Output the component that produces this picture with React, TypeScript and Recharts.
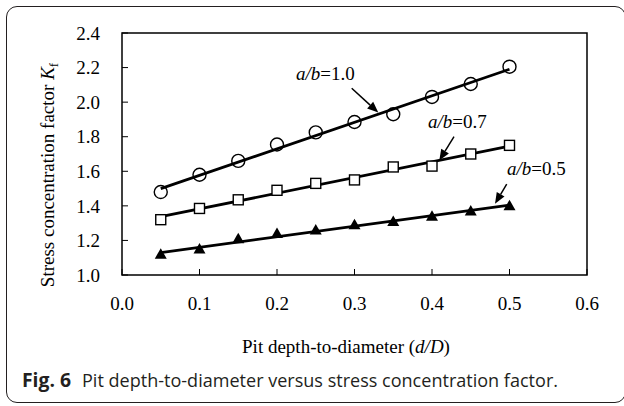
import {
  ComposedChart,
  Scatter,
  Line,
  XAxis,
  YAxis,
  ReferenceArea,
  ReferenceLine,
  ReferenceDot,
} from "recharts";

// Pit depth-to-diameter ratio (d/D)
const pitRatio = [0.05, 0.1, 0.15, 0.2, 0.25, 0.3, 0.35, 0.4, 0.45, 0.5];

// Stress concentration factor Kf, one list per a/b
const kfAb10 = [1.48, 1.58, 1.66, 1.755, 1.825, 1.885, 1.93, 2.03, 2.105, 2.205];
const kfAb07 = [1.32, 1.385, 1.435, 1.49, 1.53, 1.55, 1.625, 1.63, 1.7, 1.75];
const kfAb05 = [1.12, 1.15, 1.21, 1.24, 1.26, 1.29, 1.31, 1.34, 1.37, 1.4];

// linear fit lines, read at both ends
const fitRatio = [0.05, 0.5];
const fitAb10 = [1.5, 2.19];
const fitAb07 = [1.337, 1.745];
const fitAb05 = [1.13, 1.404];

const xTicks = [0, 0.1, 0.2, 0.3, 0.4, 0.5, 0.6];
const yTicks = [1.0, 1.2, 1.4, 1.6, 1.8, 2.0, 2.2, 2.4];

// a/b labels and the arrows pointing at each line (data units)
const annoRatio = ["1.0", "0.7", "0.5"];
const annoTextAt = [
  [0.2245, 2.128],
  [0.3948, 1.85],
  [0.4968, 1.578],
];
const annoArrowFrom = [
  [0.2964, 2.08],
  [0.4284, 1.8],
  [0.4964, 1.526],
];
const annoArrowTo = [
  [0.3307, 1.94],
  [0.4094, 1.662],
  [0.4813, 1.412],
];

const serif = "'Liberation Serif', 'Times New Roman', serif";
const sans = "'Open Sans', 'Noto Sans', sans-serif";

const toPoints = (xs: number[], ys: number[]) => xs.map((x, i) => ({ x, y: ys[i] }));

function CircleMark({ cx, cy }: any) {
  return <circle cx={cx} cy={cy} r={6.5} fill="none" stroke="#000" strokeWidth={1.4} />;
}
function SquareMark({ cx, cy }: any) {
  return <rect x={cx - 5} y={cy - 5} width={10} height={10} fill="#fff" stroke="#000" strokeWidth={1.4} />;
}
function TriangleMark({ cx, cy }: any) {
  return <polygon points={`${cx},${cy - 6} ${cx - 6},${cy + 4.5} ${cx + 6},${cy + 4.5}`} fill="#000" />;
}

function ArrowShape(props: any) {
  const { x1, y1, x2, y2 } = props;
  const ang = Math.atan2(y2 - y1, x2 - x1);
  const len = 11;
  const half = 4.5;
  const bx = x2 - len * Math.cos(ang);
  const by = y2 - len * Math.sin(ang);
  const px = -Math.sin(ang) * half;
  const py = Math.cos(ang) * half;
  return (
    <g>
      <line x1={x1} y1={y1} x2={bx} y2={by} stroke="#000" strokeWidth={1.5} />
      <polygon points={`${x2},${y2} ${bx + px},${by + py} ${bx - px},${by - py}`} fill="#000" />
    </g>
  );
}

function AnnoText({ cx, cy, ratio }: any) {
  return (
    <text x={cx} y={cy} fontFamily={serif} fontSize={19} fill="#000">
      <tspan fontStyle="italic">a/b</tspan>={ratio}
    </text>
  );
}

function YTitle({ viewBox }: any) {
  const x = viewBox.x - 8;
  const y = viewBox.y + viewBox.height / 2 + 21;
  return (
    <text x={x} y={y} transform={`rotate(-90, ${x}, ${y})`} textAnchor="middle" fontFamily={serif} fontSize={19} fill="#000">
      Stress concentration factor <tspan fontStyle="italic">K</tspan>
      <tspan fontSize={13} dy={4}>f</tspan>
    </text>
  );
}

function XTitle({ viewBox }: any) {
  const x = viewBox.x + viewBox.width / 2 - 8.5;
  const y = viewBox.y + 78;
  return (
    <text x={x} y={y} textAnchor="middle" fontFamily={serif} fontSize={19} fill="#000">
      Pit depth-to-diameter (<tspan fontStyle="italic">d/D</tspan>)
    </text>
  );
}

export default function App() {
  const tickStyle = { fill: "#000", fontSize: 19, fontFamily: serif };
  return (
    <div style={{ position: "absolute", left: 0, top: 0, width: 624, height: 406, overflow: "hidden", background: "#fff" }}>
      <div
        style={{
          position: "absolute",
          left: 6,
          top: 6,
          width: 620,
          height: 397,
          boxSizing: "border-box",
          border: "1.4px solid #231f20",
          borderRadius: 11,
        }}
      />
      <div style={{ position: "absolute", left: 0, top: 0 }}>
        <ComposedChart width={624} height={406} margin={{ top: 33, right: 37, bottom: 91, left: 62 }}>
          <XAxis
            dataKey="x"
            type="number"
            domain={[0, 0.6]}
            ticks={xTicks}
            interval={0}
            tickFormatter={(v: number) => v.toFixed(1)}
            tick={tickStyle}
            axisLine={false}
            tickLine={{ stroke: "#000" }}
            tickSize={-6}
            tickMargin={28}
            height={40}
            label={{ content: XTitle }}
          />
          <YAxis
            dataKey="y"
            type="number"
            domain={[1, 2.4]}
            ticks={yTicks}
            interval={0}
            tickFormatter={(v: number) => v.toFixed(1)}
            tick={tickStyle}
            axisLine={false}
            tickLine={{ stroke: "#000" }}
            tickSize={-6}
            tickMargin={28}
            width={60}
            label={{ content: YTitle }}
          />

          <Scatter data={toPoints(pitRatio, kfAb10)} dataKey="y" shape={CircleMark} isAnimationActive={false} />
          <Scatter data={toPoints(pitRatio, kfAb07)} dataKey="y" shape={SquareMark} isAnimationActive={false} />
          <Scatter data={toPoints(pitRatio, kfAb05)} dataKey="y" shape={TriangleMark} isAnimationActive={false} />

          <Line data={toPoints(fitRatio, fitAb10)} dataKey="y" type="linear" stroke="#000" strokeWidth={2.8} dot={false} isAnimationActive={false} />
          <Line data={toPoints(fitRatio, fitAb07)} dataKey="y" type="linear" stroke="#000" strokeWidth={2.8} dot={false} isAnimationActive={false} />
          <Line data={toPoints(fitRatio, fitAb05)} dataKey="y" type="linear" stroke="#000" strokeWidth={2.8} dot={false} isAnimationActive={false} />

          {annoRatio.map((r, i) => (
            <ReferenceLine
              key={"arr" + r}
              segment={[
                { x: annoArrowFrom[i][0], y: annoArrowFrom[i][1] },
                { x: annoArrowTo[i][0], y: annoArrowTo[i][1] },
              ]}
              shape={ArrowShape}
            />
          ))}
          {annoRatio.map((r, i) => (
            <ReferenceDot
              key={"txt" + r}
              x={annoTextAt[i][0]}
              y={annoTextAt[i][1]}
              r={0}
              shape={(p: any) => <AnnoText cx={p.cx} cy={p.cy} ratio={r} />}
            />
          ))}

          <ReferenceArea x1={0} x2={0.6} y1={1} y2={2.4} fill="none" stroke="#000" strokeWidth={1.5} />
        </ComposedChart>
      </div>
      <svg width={624} height={406} style={{ position: "absolute", left: 0, top: 0 }}>
        <text x={22} y={387} fontFamily={sans} fontSize={19} fontWeight="bold" fill="#231f20" textLength={49} lengthAdjust="spacingAndGlyphs">
          Fig. 6
        </text>
        <text x={82} y={387} fontFamily={sans} fontSize={19} fill="#231f20" textLength={476} lengthAdjust="spacingAndGlyphs">
          Pit depth-to-diameter versus stress concentration factor.
        </text>
      </svg>
    </div>
  );
}
